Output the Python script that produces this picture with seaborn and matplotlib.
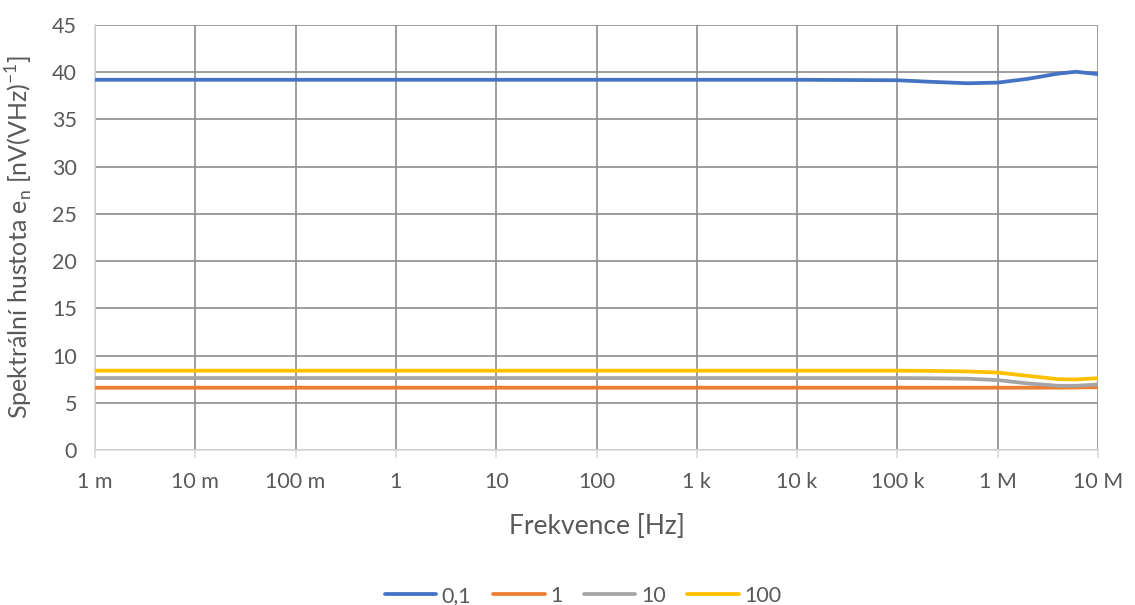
import numpy as np
import pandas as pd
import matplotlib
matplotlib.use("Agg")
import matplotlib.pyplot as plt
import seaborn as sns

# frekvence [Hz] a odectene hodnoty e_n [nV/sqrt(Hz)]
freq = [1e-3, 1e-2, 1e-1, 1, 10, 100, 1e3, 1e4, 1e5, 2e5, 5e5, 1e6, 2e6, 4e6, 6e6, 1e7]
en_01 = [39.2, 39.2, 39.2, 39.2, 39.2, 39.2, 39.2, 39.2, 39.15, 39.0, 38.83, 38.9, 39.3, 39.85, 40.05, 39.8]
en_1 = [6.6, 6.6, 6.6, 6.6, 6.6, 6.6, 6.6, 6.6, 6.6, 6.6, 6.6, 6.6, 6.6, 6.6, 6.62, 6.65]
en_10 = [7.62, 7.62, 7.62, 7.62, 7.62, 7.62, 7.62, 7.62, 7.62, 7.6, 7.55, 7.4, 7.05, 6.8, 6.8, 6.94]
en_100 = [8.4, 8.4, 8.4, 8.4, 8.4, 8.4, 8.4, 8.4, 8.4, 8.38, 8.32, 8.2, 7.85, 7.5, 7.47, 7.6]

series_names = ["0,1", "1", "10", "100"]
colors = ["#4472C4", "#ED7D31", "#A5A5A5", "#FFC000"]
xtick_vals = [1e-3, 1e-2, 1e-1, 1, 10, 100, 1e3, 1e4, 1e5, 1e6, 1e7]
xtick_labels = ["1 m", "10 m", "100 m", "1", "10", "100", "1 k", "10 k", "100 k", "1 M", "10 M"]

df = pd.concat([
    pd.DataFrame({"f": freq, "en": vals, "serie": name})
    for name, vals in zip(series_names, [en_01, en_1, en_10, en_100])
])

sns.set_style("white")
plt.rcParams["font.family"] = ["Lato", "DejaVu Sans"]
txt = "#595959"

fig = plt.figure(figsize=(11.35, 6.05), dpi=100)
ax = fig.add_axes([95 / 1135, 1 - 450 / 605, (1098 - 95) / 1135, (450 - 25) / 605])

sns.lineplot(data=df, x="f", y="en", hue="serie", palette=colors, hue_order=series_names,
             linewidth=2.7, ax=ax, legend=False, zorder=3)

ax.set_xscale("log")
ax.set_xlim(1e-3, 1e7)
ax.set_ylim(0, 45)
ax.set_yticks(range(0, 46, 5))
ax.set_xticks(xtick_vals)
ax.set_xticklabels(xtick_labels)
ax.minorticks_off()

ax.grid(True, color="#8c8c8c", linewidth=1.2, zorder=0)
for s in ["top", "right"]:
    ax.spines[s].set_visible(False)
for s in ["left", "bottom"]:
    ax.spines[s].set_color("#d9d9d9")
    ax.spines[s].set_linewidth(1.2)
    ax.spines[s].set_zorder(2)

ax.tick_params(axis="x", which="major", length=6, color="#d9d9d9", width=1.2,
               labelsize=15.5, labelcolor=txt, pad=10, bottom=True)
ax.tick_params(axis="y", length=0, labelsize=15.5, labelcolor=txt, pad=13)

ax.set_xlabel("Frekvence [Hz]", fontsize=19, color=txt, labelpad=16)
ax.set_ylabel(r"Spektrální hustota e$_\mathregular{n}$ [nV(VHz)$^\mathregular{-1}$]",
              fontsize=18, color=txt, labelpad=12)

handles = [plt.Line2D([], [], color=c, linewidth=2.7) for c in colors]
fig.legend(handles, series_names, loc="center", bbox_to_anchor=(583 / 1135, 1 - 596 / 605),
           ncol=4, frameon=False, fontsize=15.5, labelcolor=txt, handlelength=2.4,
           handletextpad=0.25, columnspacing=1.0)

fig.savefig("out.png", dpi=100)
